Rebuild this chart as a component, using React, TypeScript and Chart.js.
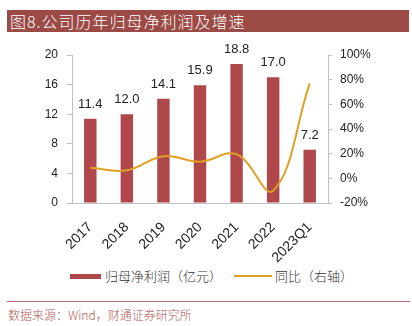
import React, { useEffect, useRef } from "react";
import { Chart, registerables } from "chart.js";

Chart.register(...registerables);

const categories = ["2017", "2018", "2019", "2020", "2021", "2022", "2023Q1"];
const profit = [11.4, 12.0, 14.1, 15.9, 18.8, 17.0, 7.2];
const growth = [8.5, 6.5, 18, 13.5, 19.5, -10, 77];
const leftTicks = { min: 0, max: 20, step: 4 };
const rightTicks = { min: -20, max: 100, step: 20 };

const BAR = "#B0474A";
const LINE = "#E0A024";
const AXIS = "#BFBFBF";
const TICKFONT = "'Liberation Sans', Arial, sans-serif";
const CJK = "'Noto Sans CJK SC', sans-serif";

const labelPlugin = {
  id: "barLabels",
  afterDatasetsDraw(chart: any) {
    const ctx = chart.ctx;
    const meta = chart.getDatasetMeta(0);
    ctx.save();
    ctx.font = `13px ${TICKFONT}`;
    ctx.fillStyle = "#222";
    ctx.textAlign = "center";
    ctx.textBaseline = "bottom";
    meta.data.forEach((el: any, i: number) => {
      ctx.fillText(profit[i].toFixed(1), el.x, el.y - 8);
    });
    ctx.restore();
  },
};

export default function App() {
  const ref = useRef<HTMLCanvasElement>(null);
  useEffect(() => {
    const chart = new Chart(ref.current!, {
      type: "bar",
      data: {
        labels: categories,
        datasets: [
          {
            type: "bar",
            label: "归母净利润（亿元）",
            data: profit,
            backgroundColor: BAR,
            yAxisID: "y",
            barPercentage: 0.34,
            categoryPercentage: 1,
            order: 1,
          },
          {
            type: "line",
            label: "同比（右轴）",
            data: growth,
            borderColor: LINE,
            borderWidth: 2,
            pointRadius: 0,
            tension: 0.4,
            yAxisID: "y1",
            order: 0,
          } as any,
        ],
      },
      options: {
        responsive: false,
        animation: false,
        layout: { padding: { top: 20, left: 0, right: 0, bottom: 0 } },
        plugins: { legend: { display: false }, tooltip: { enabled: false } },
        scales: {
          x: {
            grid: { display: false },
            border: { color: AXIS },
            ticks: {
              color: "#222",
              font: { family: TICKFONT, size: 14 },
              minRotation: 45,
              maxRotation: 45,
              padding: 8,
            },
            afterFit(axis: any) {
              axis.height = 60;
            },
          },
          y: {
            position: "left",
            min: leftTicks.min,
            max: leftTicks.max,
            grid: { drawOnChartArea: false, color: AXIS, tickLength: 5 },
            border: { color: AXIS },
            ticks: {
              stepSize: leftTicks.step,
              color: "#222",
              font: { family: TICKFONT, size: 12 },
              padding: 9,
            },
            afterFit(axis: any) {
              axis.width = 72;
            },
          },
          y1: {
            position: "right",
            min: rightTicks.min,
            max: rightTicks.max,
            grid: { drawOnChartArea: false, color: AXIS, tickLength: 4 },
            border: { color: AXIS },
            ticks: {
              stepSize: rightTicks.step,
              color: "#222",
              font: { family: TICKFONT, size: 12 },
              padding: 8,
              callback: (v: any) => `${v}%`,
            },
            afterFit(axis: any) {
              axis.width = 84;
            },
          },
        },
      },
      plugins: [labelPlugin],
    });
    return () => chart.destroy();
  }, []);

  return (
    <div style={{ position: "fixed", left: 0, top: 0, width: 412, height: 326, background: "#fff", overflow: "hidden" }}>
      <div
        style={{
          position: "absolute", left: 7, top: 10, width: 402, height: 22, background: "#9B4A46",
          color: "#fff", fontFamily: CJK, fontSize: 16, fontWeight: 300, lineHeight: "22px", paddingLeft: 3, boxSizing: "border-box",
          letterSpacing: 1,
        }}
      >
        图8.公司历年归母净利润及增速
      </div>
      <canvas ref={ref} width={412} height={228} style={{ position: "absolute", left: 0, top: 35 }} />
      <div style={{ position: "absolute", left: 70, top: 274, width: 31, height: 5, background: BAR }} />
      <div style={{ position: "absolute", left: 105, top: 267, fontFamily: CJK, fontSize: 13, fontWeight: 300, lineHeight: "18px", color: "#333" }}>
        归母净利润（亿元）
      </div>
      <div style={{ position: "absolute", left: 234, top: 275, width: 38, height: 2, background: LINE }} />
      <div style={{ position: "absolute", left: 275, top: 267, fontFamily: CJK, fontSize: 13, fontWeight: 300, lineHeight: "18px", color: "#333" }}>
        同比（右轴）
      </div>
      <div style={{ position: "absolute", left: 7, top: 301, width: 403, height: 1, background: "#C0706C" }} />
      <div style={{ position: "absolute", left: 8, top: 306, fontFamily: CJK, fontSize: 12, fontWeight: 300, lineHeight: "18px", color: "#B05A55" }}>
        数据来源：Wind，财通证券研究所
      </div>
    </div>
  );
}
